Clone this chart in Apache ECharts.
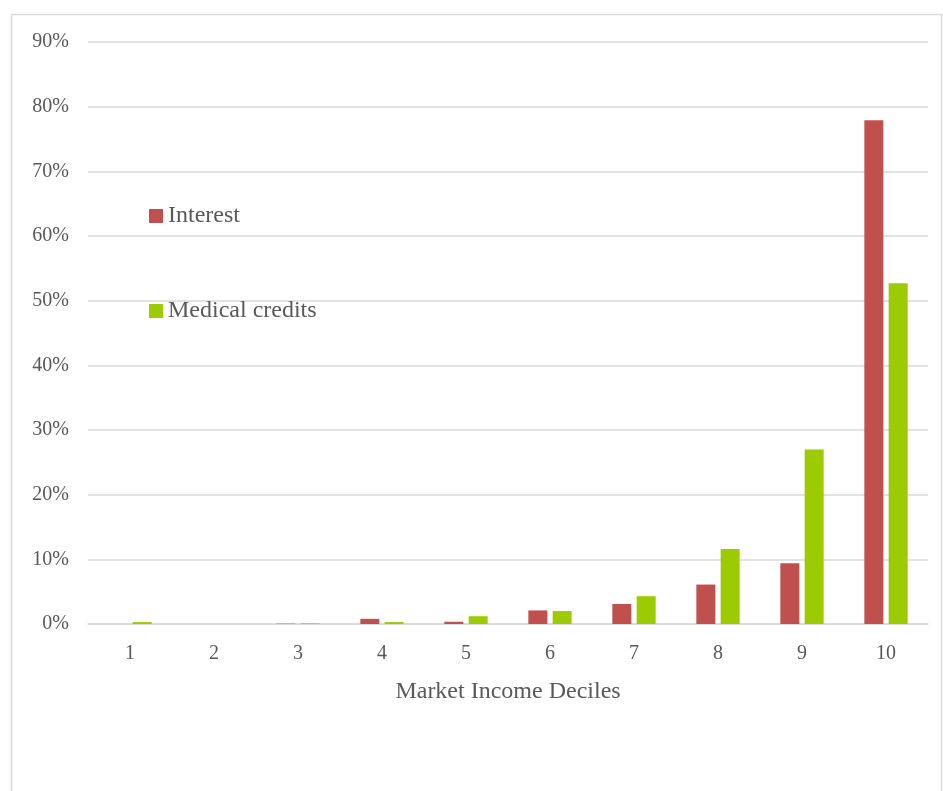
<!DOCTYPE html>
<html>
<head>
<meta charset="utf-8">
<script src="https://cdn.jsdelivr.net/npm/echarts@6/dist/echarts.min.js"></script>
<style>html,body{margin:0;padding:0;background:#fff;}#c{width:943px;height:791px;}</style>
</head>
<body>
<div id="c"></div>
<script>
const categories = ['1','2','3','4','5','6','7','8','9','10'];
const interest = [0, 0, 0.05, 0.8, 0.35, 2.1, 3.1, 6.1, 9.4, 77.9];
const medical = [0.3, 0, 0.1, 0.3, 1.2, 2.0, 4.3, 11.6, 27.0, 52.7];
const seriesNames = ['Interest', 'Medical credits'];
const xTitle = 'Market Income Deciles';

const font = '"Liberation Serif", "Times New Roman", serif';
const chart = echarts.init(document.getElementById('c'));
chart.setOption({
  animation: false,
  backgroundColor: '#fff',
  graphic: [{
    type: 'rect', left: 9, top: 12,
    shape: {width: 930, height: 800},
    style: {fill: 'none', stroke: '#d9d9d9', lineWidth: 1.5}
  }],
  grid: {left: 88, right: 15, top: 42, bottom: 167},
  legend: {
    orient: 'vertical', left: 144, top: 199,
    itemWidth: 14, itemHeight: 14, itemGap: 71,
    icon: 'rect',
    textStyle: {fontFamily: font, fontSize: 24, color: '#595959'},
    data: seriesNames
  },
  xAxis: {
    type: 'category', data: categories,
    name: xTitle, nameLocation: 'middle', nameGap: 56,
    nameTextStyle: {fontFamily: font, fontSize: 24, color: '#595959'},
    axisLine: {lineStyle: {color: '#d9d9d9', width: 1.5}},
    axisTick: {show: false},
    axisLabel: {fontFamily: font, fontSize: 20, color: '#595959', margin: 20}
  },
  yAxis: {
    type: 'value', min: 0, max: 90, interval: 10,
    axisLine: {show: false}, axisTick: {show: false},
    splitLine: {lineStyle: {color: '#d9d9d9', width: 1.5}},
    axisLabel: {fontFamily: font, fontSize: 20, color: '#595959', margin: 19, formatter: '{value}%'}
  },
  series: [
    {name: seriesNames[0], type: 'bar', data: interest, barWidth: 19, barGap: '28%',
     itemStyle: {color: '#c0504d'}},
    {name: seriesNames[1], type: 'bar', data: medical, barWidth: 19,
     itemStyle: {color: '#9bcb00'}}
  ]
});
</script>
</body>
</html>
